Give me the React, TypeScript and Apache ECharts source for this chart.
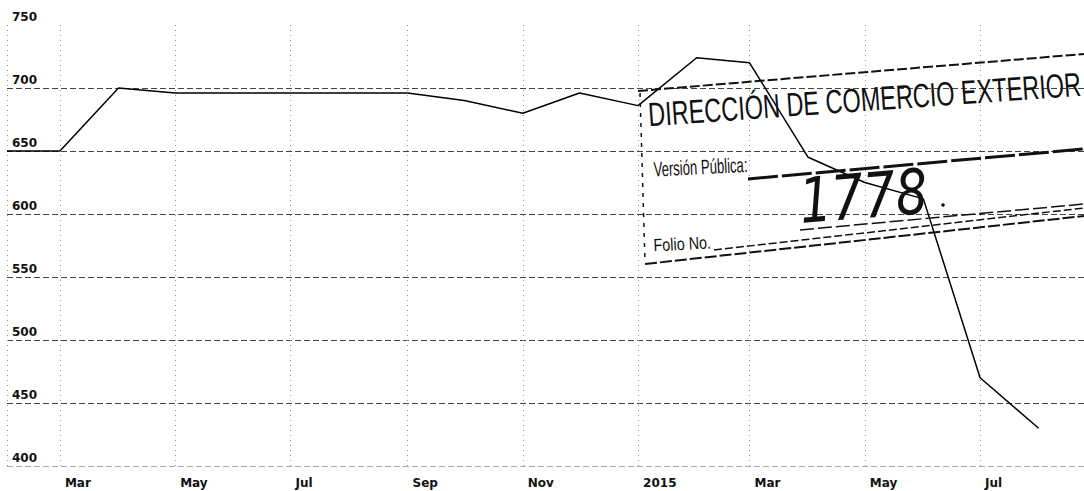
import React, { useEffect, useRef } from "react";
import * as echarts from "echarts";

const months: string[] = [
  "2014-02-01", "2014-03-01", "2014-04-01", "2014-05-01", "2014-06-01", "2014-07-01",
  "2014-08-01", "2014-09-01", "2014-10-01", "2014-11-01", "2014-12-01", "2015-01-01",
  "2015-02-01", "2015-03-01", "2015-04-01", "2015-05-01", "2015-06-01", "2015-07-01",
  "2015-08-01",
];
const values: number[] = [
  650, 650, 700, 696, 696, 696, 696, 696, 690, 680, 696, 686, 724, 720, 645, 625, 612, 470, 430,
];
const monthNames: string[] = ["Jan", "Feb", "Mar", "Apr", "May", "Jun", "Jul", "Aug", "Sep", "Oct", "Nov", "Dec"];
const yTicks = { min: 400, max: 750, step: 50 };
const stampTitle = "DIRECCIÓN DE COMERCIO EXTERIOR";
const stampVersion = "Versión Pública:";
const stampFolio = "Folio No.";
const stampNumber = "1778";

const DAY = 24 * 3600 * 1000;

export default function App() {
  const ref = useRef<HTMLDivElement>(null);
  useEffect(() => {
    if (!ref.current) return;
    const chart = echarts.init(ref.current, null, { renderer: "svg" });
    const labelFont = { fontFamily: "DejaVu Sans", fontWeight: "bold" as const, fontSize: 12, color: "#111" };
    const stampColor = "#111";
    chart.setOption({
      animation: false,
      backgroundColor: "#fff",
      grid: { left: 7, right: 0, top: 25, bottom: 25 },
      xAxis: {
        type: "time",
        min: "2014-02-01",
        max: "2015-08-25",
        minInterval: 62 * DAY,
        maxInterval: 62 * DAY,
        axisLine: { show: false },
        axisTick: { show: false },
        splitLine: { show: true, lineStyle: { color: "#999", type: [1, 4], width: 1 } },
        axisLabel: {
          ...labelFont,
          align: "left",
          padding: [0, 0, 0, 5],
          margin: 11,
          formatter: (v: number) => {
            const d = new Date(v);
            return d.getMonth() === 0 ? String(d.getFullYear()) : monthNames[d.getMonth()];
          },
        },
      },
      yAxis: {
        type: "value",
        min: yTicks.min,
        max: yTicks.max,
        interval: yTicks.step,
        axisLine: { show: false },
        axisTick: { show: false },
        axisLabel: {
          ...labelFont,
          inside: true,
          margin: 5,
          verticalAlign: "bottom",
          padding: [0, 0, 2, 0],
        },
        splitLine: {
          show: true,
          lineStyle: {
            color: ["#aaa", "#444", "#444", "#444", "#444", "#444", "#444", "rgba(0,0,0,0)"],
            type: [6, 3],
            width: 1,
          },
        },
      },
      series: [
        {
          type: "line",
          data: months.map((m, i) => [m, values[i]]),
          showSymbol: false,
          lineStyle: { color: "#000", width: 1.5 },
          z: 3,
        },
      ],
      graphic: [
        { type: "line", shape: { x1: 638, y1: 91, x2: 1084, y2: 54 }, style: { stroke: stampColor, lineWidth: 2, lineDash: [10, 3] }, z: 10 },
        { type: "line", shape: { x1: 640, y1: 93, x2: 645, y2: 262 }, style: { stroke: stampColor, lineWidth: 1.5, lineDash: [4, 6] }, z: 10 },
        { type: "line", shape: { x1: 645, y1: 264, x2: 1084, y2: 216 }, style: { stroke: stampColor, lineWidth: 2, lineDash: [12, 3] }, z: 10 },
        { type: "line", shape: { x1: 748, y1: 179, x2: 1084, y2: 149 }, style: { stroke: stampColor, lineWidth: 3, lineDash: [30, 4] }, z: 10 },
        { type: "line", shape: { x1: 714, y1: 250, x2: 1084, y2: 208 }, style: { stroke: stampColor, lineWidth: 1.5, lineDash: [8, 3] }, z: 10 },
        { type: "line", shape: { x1: 800, y1: 230, x2: 1084, y2: 204 }, style: { stroke: stampColor, lineWidth: 1.5, lineDash: [14, 4] }, z: 10 },
        {
          type: "text",
          x: 647,
          y: 98,
          rotation: 0.07,
          scaleX: 0.84,
          scaleY: 1.2,
          style: { text: stampTitle, fontFamily: "Liberation Sans", fontSize: 28, fill: stampColor, verticalAlign: "top" },
          z: 10,
        },
        {
          type: "text",
          x: 653,
          y: 159,
          rotation: 0.05,
          scaleX: 0.82,
          scaleY: 1.3,
          style: { text: stampVersion, fontFamily: "Liberation Sans", fontSize: 16, fill: stampColor, verticalAlign: "top" },
          z: 10,
        },
        {
          type: "text",
          x: 653,
          y: 236,
          rotation: 0.05,
          scaleX: 0.9,
          scaleY: 1.1,
          style: { text: stampFolio, fontFamily: "Liberation Sans", fontSize: 16, fill: stampColor, verticalAlign: "top" },
          z: 10,
        },
        {
          type: "text",
          x: 797,
          y: 170,
          rotation: 0.08,
          scaleX: 1.05,
          scaleY: 1.3,
          style: { text: stampNumber, fontFamily: "DejaVu Sans", fontStyle: "italic", fontSize: 48, fill: stampColor, verticalAlign: "top" },
          z: 10,
        },
        { type: "circle", shape: { cx: 943, cy: 205, r: 1.8 }, style: { fill: stampColor }, z: 10 },
      ],
    });
    return () => chart.dispose();
  }, []);
  return (
    <div
      ref={ref}
      style={{ position: "absolute", left: 0, top: 0, width: 1084, height: 491, background: "#fff" }}
    />
  );
}
